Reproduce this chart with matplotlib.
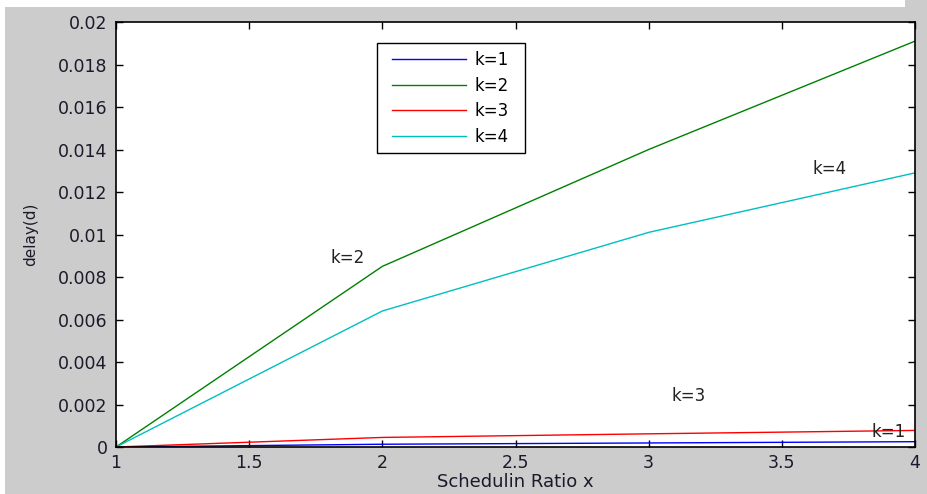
import matplotlib
matplotlib.use("Agg")
import matplotlib.pyplot as plt
from matplotlib.patches import Rectangle

plt.rcParams['font.family'] = ['DejaVu Sans']

x = [1, 2, 3, 4]
k1 = [0.0, 0.00013, 0.00019, 0.00025]
k2 = [0.0, 0.0085, 0.0140, 0.0191]
k3 = [0.0, 0.00045, 0.00062, 0.00078]
k4 = [0.0, 0.0064, 0.0101, 0.0129]
series = [("k=1", k1, "#0000ff"), ("k=2", k2, "#008000"),
          ("k=3", k3, "#ff0000"), ("k=4", k4, "#00bfbf")]
annots = [("k=2", 1.87, 0.0089), ("k=4", 3.68, 0.0131),
          ("k=3", 3.15, 0.0024), ("k=1", 3.90, 0.0007)]

W, H = 927, 494
fig = plt.figure(figsize=(W / 100, H / 100), dpi=100, facecolor="#cccccc")
# white margins of the screenshot (top and left)
fig.patches.append(Rectangle((0, 1 - 7 / H), 905 / W, 7 / H, transform=fig.transFigure,
                             facecolor="white", edgecolor="none", zorder=0))
fig.patches.append(Rectangle((0, 0), 5 / W, 1, transform=fig.transFigure,
                             facecolor="white", edgecolor="none", zorder=0))

ax = fig.add_axes([116 / W, 47 / H, 799 / W, 425 / H])
ax.set_facecolor("white")
for lab, vals, c in series:
    ax.plot(x, vals, color=c, lw=1.0, label=lab)
for t, tx, ty in annots:
    ax.text(tx, ty, t, ha="center", va="center", fontsize=12, color="#222222")

ax.set_xlim(1, 4)
ax.set_ylim(0, 0.02)
ax.set_xticks([1, 1.5, 2, 2.5, 3, 3.5, 4])
ax.set_xticklabels(["1", "1.5", "2", "2.5", "3", "3.5", "4"])
yt = [0, 0.002, 0.004, 0.006, 0.008, 0.01, 0.012, 0.014, 0.016, 0.018, 0.02]
ax.set_yticks(yt)
ax.set_yticklabels(["0", "0.002", "0.004", "0.006", "0.008", "0.01", "0.012",
                    "0.014", "0.016", "0.018", "0.02"])
ax.tick_params(direction="in", top=True, right=True, length=5, width=1,
               labelsize=12.5, colors="black", labelcolor="#1a1a2a")
ax.tick_params(axis="y", pad=6)
ax.tick_params(axis="x", pad=5)
for s in ax.spines.values():
    s.set_linewidth(1.2)
ax.set_xlabel("Schedulin Ratio x", fontsize=13, labelpad=1, color="#1a1a2a")
ax.set_ylabel("delay(d)", fontsize=11, labelpad=14, color="#1a1a2a")

# legend frame drawn as a box in axes fraction
x0, x1 = (377 - 116) / 799, (525 - 116) / 799
y0, y1 = (447 - 153) / 425, (447 - 43) / 425
ax.add_patch(Rectangle((x0, y0), x1 - x0, y1 - y0, transform=ax.transAxes,
                       facecolor="white", edgecolor="black", lw=1.0, zorder=4.9))
leg = ax.legend(loc="upper left", bbox_to_anchor=((392 - 116) / 799, (447 - 51) / 425),
                fontsize=12, frameon=False, borderaxespad=0, borderpad=0,
                handlelength=4.44, handletextpad=0.54, labelspacing=0.45)
leg.set_zorder(5)

fig.savefig("out.png", dpi=100, facecolor=fig.get_facecolor())
